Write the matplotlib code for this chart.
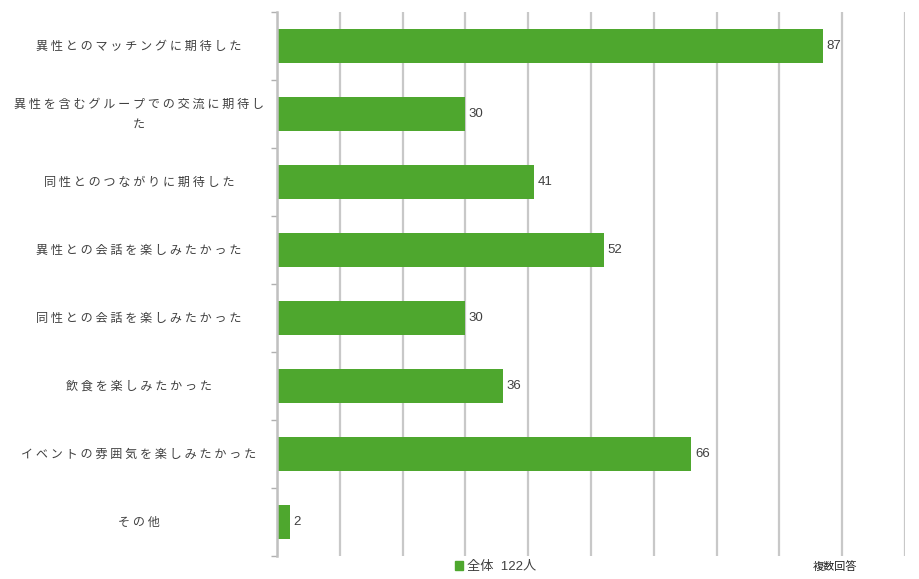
import matplotlib.pyplot as plt
import matplotlib.transforms as mtransforms
from matplotlib.patches import Patch

plt.rcParams['font.family'] = ['Noto Sans CJK JP', 'DejaVu Sans']

categories = [
    "異性とのマッチングに期待した",
    "異性を含むグループでの交流に期待した",
    "同性とのつながりに期待した",
    "異性との会話を楽しみたかった",
    "同性との会話を楽しみたかった",
    "飲食を楽しみたかった",
    "イベントの雰囲気を楽しみたかった",
    "その他",
]
values = [87, 30, 41, 52, 30, 36, 66, 2]
series_name = "全体  122人"
note = "複数回答"

bar_color = "#4ea72e"
text_color = "#404040"
grid_color = "#c8c8c8"
num_font = ['Liberation Sans', 'Noto Sans CJK JP']


def spaced(label):
    # the source draws the labels with wide letter spacing
    if label == categories[1]:
        return " ".join(label[:-1]) + "\n" + label[-1]
    return " ".join(label)


fig = plt.figure(figsize=(9.2, 5.79), dpi=100)
ax = fig.add_axes([277 / 920, 1 - 556 / 579, (905 - 277) / 920, (556 - 12) / 579])

y = list(range(len(categories)))
ax.barh(y, values, height=0.5, color=bar_color, zorder=3)

ax.set_xlim(0, 100)
ax.set_ylim(len(categories) - 0.5, -0.5)
ax.set_xticks(range(0, 101, 10))
ax.xaxis.grid(True, color=grid_color, linewidth=1.6, zorder=0)
ax.tick_params(axis='x', length=0, labelbottom=False)

ax.set_yticks([i - 0.5 for i in range(len(categories) + 1)])
ax.tick_params(axis='y', length=4, width=1, color="#b0b0b0", labelleft=False)

for side in ["top", "right", "bottom"]:
    ax.spines[side].set_visible(False)
ax.spines["left"].set_color("#c0c0c0")
ax.spines["left"].set_linewidth(1.8)
ax.spines["left"].set_zorder(4)

trans = mtransforms.blended_transform_factory(fig.transFigure, ax.transData)
for i, cat in enumerate(categories):
    ax.text(139 / 920, i, spaced(cat), transform=trans, ha="center", va="center",
            multialignment="center", fontsize=8.7, color=text_color, linespacing=1.7)

for i, v in enumerate(values):
    ax.annotate(str(v), (v, i), xytext=(2.5, 0), textcoords="offset points",
                ha="left", va="center", fontsize=9.5, color=text_color, family=num_font)

fig.legend(handles=[Patch(color=bar_color, label=series_name)], loc="center",
           bbox_to_anchor=(496 / 920, 1 - 567 / 579), frameon=False,
           prop={'family': num_font, 'size': 9.5},
           handlelength=0.6, handleheight=0.6, handletextpad=0.3,
           labelcolor=text_color)
fig.text(835 / 920, 1 - 567 / 579, note, ha="center", va="center", fontsize=8, color="#202020")

fig.savefig("out.png", dpi=100)
